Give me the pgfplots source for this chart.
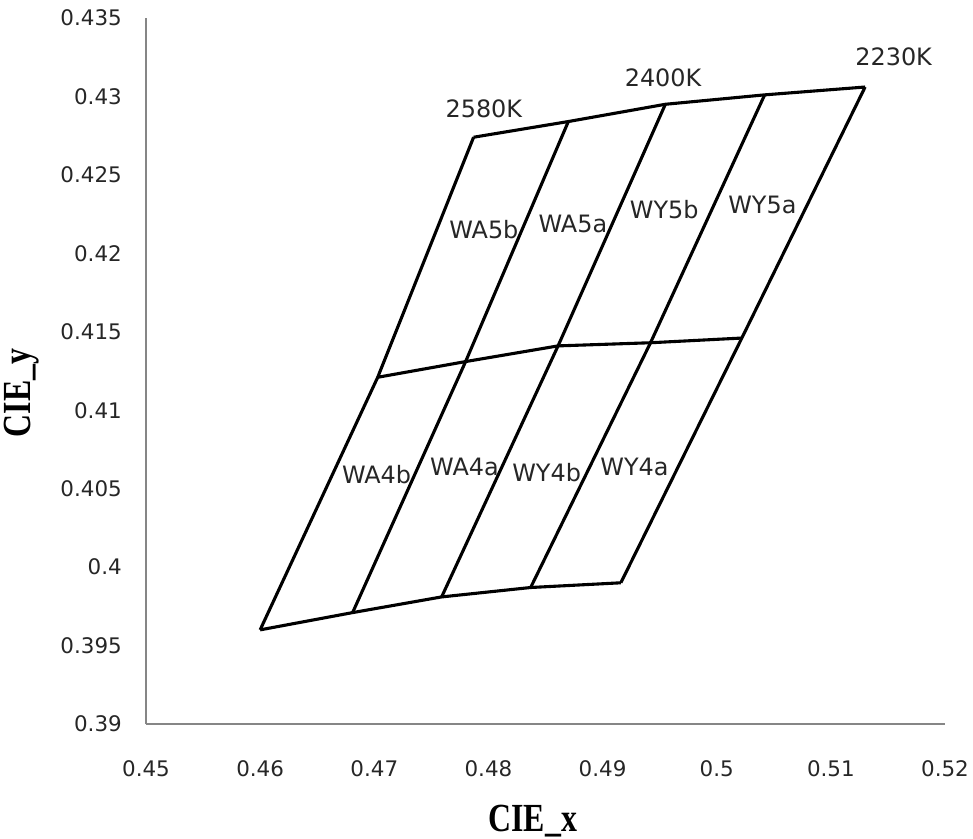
\documentclass[border=0pt]{standalone}
\usepackage{pgfplots}
\pgfplotsset{compat=1.18}
\usepackage{fontspec}
\setmainfont{DejaVu Sans}
\newfontfamily\titlefont{Liberation Serif}

\definecolor{axisgray}{RGB}{134,134,134}
\pgfplotsset{binline/.style={black, solid, line width=3.1bp, line join=miter, mark=none}}

% grid corners (CIE x, y), rows from 2580K to 2230K
\pgfplotstableread{
x       y
0.4600  0.3960
0.4681  0.3971
0.4759  0.3981
0.4837  0.3987
0.4916  0.3990
}\bottomrow
\pgfplotstableread{
x       y
0.4703  0.4121
0.4780  0.4131
0.4861  0.4141
0.4942  0.4143
0.5022  0.4146
}\middlerow
\pgfplotstableread{
x       y
0.4787  0.4274
0.4870  0.4284
0.4955  0.4295
0.5042  0.4301
0.5130  0.4306
}\toprow

\pgfplotstableread{
x       y       lab
0.4796  0.4292  2580K
0.4953  0.4312  2400K
0.5155  0.4325  2230K
0.4796  0.4215  WA5b
0.4874  0.4219  WA5a
0.4954  0.4228  WY5b
0.5040  0.4231  WY5a
0.4702  0.4059  WA4b
0.4779  0.4064  WA4a
0.4851  0.4060  WY4b
0.4928  0.4064  WY4a
}\labels

\begin{document}
\begin{tikzpicture}[x=1bp,y=1bp]
\path[use as bounding box] (-146,-115) rectangle (827,724);
\begin{axis}[
    at={(0,0)}, anchor=south west,
    scale only axis, width=799bp, height=706bp,
    xmin=0.45, xmax=0.52, ymin=0.39, ymax=0.435,
    xtick={0.45,0.46,0.47,0.48,0.49,0.5,0.51,0.52},
    xticklabels={0.45,0.46,0.47,0.48,0.49,0.5,0.51,0.52},
    ytick={0.39,0.395,0.4,0.405,0.41,0.415,0.42,0.425,0.43,0.435},
    yticklabels={0.39,0.395,0.4,0.405,0.41,0.415,0.42,0.425,0.43,0.435},
    axis x line*=bottom, axis y line*=left,
    axis line style={axisgray, line width=1.8bp, -},
    major tick length=0pt,
    tick label style={font=\fontsize{21.5}{24}\selectfont, text=black!85},
    xticklabel style={inner sep=0pt, anchor=north, yshift=-36bp},
    yticklabel style={inner sep=0pt, anchor=east, xshift=-24bp},
    xlabel={\scalebox{1}[1.25]{\titlefont\bfseries\fontsize{32}{36}\selectfont CIE\_x}},
    ylabel={\scalebox{1}[1.25]{\titlefont\bfseries\fontsize{32}{36}\selectfont CIE\_y}},
    xlabel style={at={(axis description cs:0.484,-0.137)}, anchor=center, inner sep=0pt},
    ylabel style={at={(axis description cs:-0.156,0.469)}, anchor=center, inner sep=0pt},
    clip=false,
]
% temperature rows
\addplot[binline] table {\bottomrow};
\addplot[binline] table {\middlerow};
\addplot[binline] table {\toprow};
% bin boundaries (columns)
\addplot[binline] coordinates {(0.4600,0.3960) (0.4703,0.4121) (0.4787,0.4274)};
\addplot[binline] coordinates {(0.4681,0.3971) (0.4780,0.4131) (0.4870,0.4284)};
\addplot[binline] coordinates {(0.4759,0.3981) (0.4861,0.4141) (0.4955,0.4295)};
\addplot[binline] coordinates {(0.4837,0.3987) (0.4942,0.4143) (0.5042,0.4301)};
\addplot[binline] coordinates {(0.4916,0.3990) (0.5022,0.4146) (0.5130,0.4306)};
% bin names and CCT labels
\addplot[only marks, mark=none, draw=none,
    nodes near coords, point meta=explicit symbolic,
    every node near coord/.append style={anchor=center, inner sep=0pt,
        text=black!85, font=\fontsize{24}{27}\selectfont}]
    table[meta=lab] {\labels};
\end{axis}
\end{tikzpicture}
\end{document}
